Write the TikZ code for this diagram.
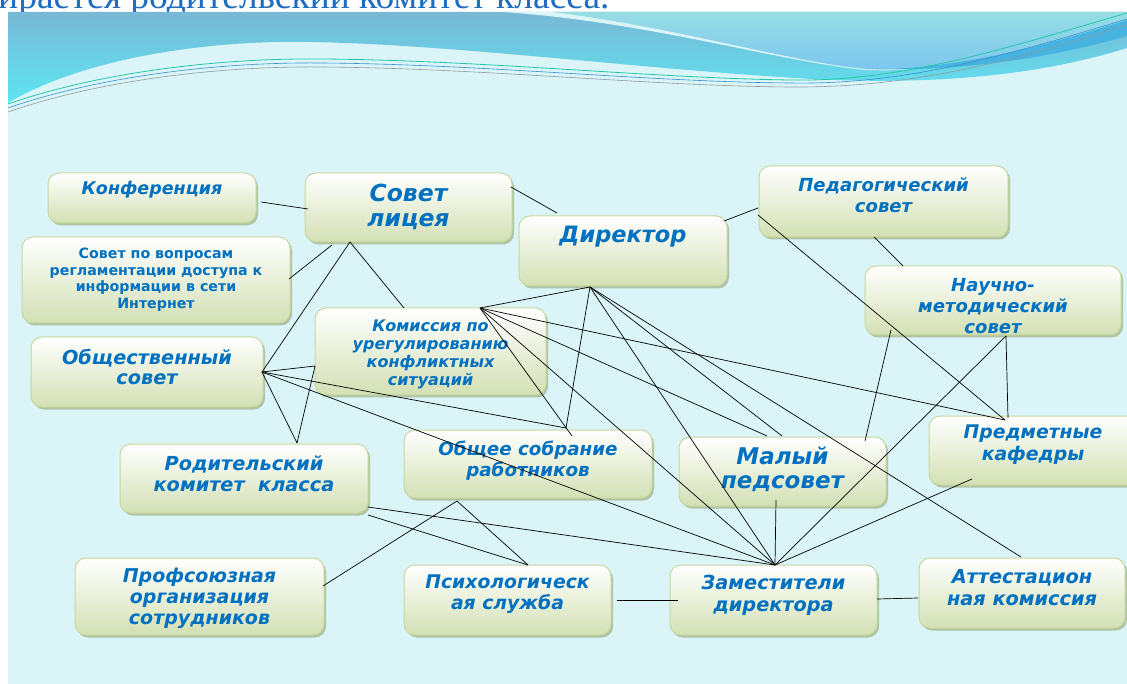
\documentclass[tikz,border=0pt]{standalone}
\usepackage{fontspec}
\newfontfamily\bxf{DejaVu Sans}
\newfontfamily\ttlf{Liberation Serif}
\usetikzlibrary{shadows}
\definecolor{bgc}{HTML}{DAF4F8}
\definecolor{txtc}{HTML}{0070C0}
\definecolor{ttlc}{HTML}{1F6DBF}
\definecolor{boxbot}{HTML}{D3E0B4}
\definecolor{boxedge}{HTML}{C5D89E}
\definecolor{shadc}{HTML}{A3B389}
\definecolor{wtop}{HTML}{79B8D5}
\definecolor{wbot}{HTML}{5CE6F2}
\definecolor{rtop}{HTML}{97DEE4}
\definecolor{rbot}{HTML}{7CC6EE}
\definecolor{band}{HTML}{47B3E0}
\definecolor{lteal}{HTML}{22C8A6}
\definecolor{lblue}{HTML}{3A8FD0}
\definecolor{lgray}{HTML}{8E9AA0}
\newcommand\bx[5]{%
  \node[box, minimum width={#4-#2}, minimum height={#5-#3}] (#1) at ({(#2+#4)/2},{(#3+#5)/2}) {};}
\newcommand\tx[6]{% name, cx, cy, size, skip, text
  \node[tx, font=\bxf\bfseries\itshape\fontsize{#4}{#5}\selectfont] (#1) at (#2,#3) {#6};}
\begin{document}
\begin{tikzpicture}[x=1pt,y=-1pt,
  box/.style={draw=boxedge, line width=1pt, rounded corners=11pt, top color=white,
    bottom color=boxbot, inner sep=0pt,
    drop shadow={shadow xshift=2pt, shadow yshift=-2.5pt, fill=shadc, opacity=0.75}},
  tx/.style={text=txtc, align=center, inner sep=0pt},
  conn/.style={draw=black, line width=0.7pt}]
\useasboundingbox (0,0) rectangle (1127,684);
\fill[white] (0,0) rectangle (1127,684);
% title (cut off at top in the reference)
\node[anchor=base west, inner sep=0pt, text=ttlc, font=\ttlf\fontsize{37.5}{40}\selectfont] (title) at (-2,9) {ирается родительский комитет класса.};
% background
\fill[bgc] (8,12) rectangle (1127,684);
% banner
\shade[top color=wtop, bottom color=wbot] (8,12) -- (1127,12) -- (1127,48)
  .. controls (1050,72) and (950,86) .. (812,79)
  .. controls (650,70) and (450,44) .. (309,42)
  .. controls (200,40) and (80,60) .. (8,103) -- cycle;
\fill[bgc] (503,12) .. controls (650,22) and (780,62) .. (866,70)
  .. controls (960,74) and (1050,42) .. (1127,13) -- (1127,12) -- cycle;
\shade[top color=rtop, bottom color=rbot] (553,12) -- (1127,12) -- (1127,22)
  .. controls (1050,45) and (960,70) .. (866,69)
  .. controls (790,62) and (680,28) .. (553,12) -- cycle;
\fill[band] (866,69) .. controls (960,70) and (1050,44) .. (1127,20) -- (1127,36)
  .. controls (1050,58) and (960,72) .. (866,69) -- cycle;
\draw[lteal, line width=0.8pt] (8,104) .. controls (100,72) and (220,58) .. (320,59)
  .. controls (480,60) and (650,78) .. (790,80) .. controls (900,82) and (1000,50) .. (1127,13);
\draw[lblue, line width=0.6pt] (8,108) .. controls (100,76) and (220,62) .. (320,63)
  .. controls (480,64) and (650,82) .. (790,83) .. controls (905,85) and (1005,56) .. (1127,19);
\draw[lgray, line width=0.6pt] (8,112) .. controls (100,80) and (220,66) .. (320,67)
  .. controls (480,68) and (650,86) .. (790,87) .. controls (910,88) and (1010,62) .. (1127,25);
% boxes
\bx{conf}{48}{173}{256}{223}
\bx{sovet}{305}{173}{512}{242}
\bx{vopr}{22}{237}{290}{323}
\bx{dir}{519}{216}{727}{286}
\bx{ped}{759}{166}{1008}{237}
\bx{nauch}{865}{266}{1121}{335}
\bx{kom}{315}{308}{546}{395}
\bx{obsh}{31}{337}{263}{407}
\bx{rod}{120}{444}{368}{513}
\bx{obsob}{404}{430}{652}{498}
\bx{malyi}{679}{437}{886}{506}
\bx{predm}{929}{416}{1145}{485}
\bx{prof}{75}{558}{324}{635}
\bx{psih}{404}{565}{611}{635}
\bx{zam}{670}{565}{877}{635}
\bx{attest}{919}{558}{1125}{628}
% texts
\tx{conf-t}{152}{190}{17.5}{20}{Конференция}
\tx{sovet-t}{408.5}{206.5}{23.5}{25}{Совет\\лицея}
\node[tx, font=\bxf\bfseries\fontsize{14.2}{16.5}\selectfont] (vopr-t) at (156,279.5) {Совет по вопросам\\регламентации доступа к\\информации в сети\\Интернет};
\tx{dir-t}{623}{237}{22.5}{25}{Директор}
\tx{ped-t}{883.5}{195.5}{18}{21}{Педагогический\\совет}
\tx{nauch-t}{993}{306}{18}{21}{Научно-\\методический\\совет}
\tx{kom-t}{430.5}{354}{16}{18}{Комиссия по\\урегулированию\\конфликтных\\ситуаций}
\tx{obsh-t}{147}{367}{19.3}{20}{Общественный\\совет}
\tx{rod-t}{244}{473.5}{19.3}{21}{Родительский\\комитет\ \ класса}
\tx{obsob-t}{528}{460.5}{18.3}{21}{Общее собрание\\работников}
\tx{malyi-t}{782.5}{469}{23}{24}{Малый\\педсовет}
\tx{predm-t}{1033}{445}{18.8}{22}{Предметные\\кафедры}
\tx{prof-t}{199.5}{598}{19}{21}{Профсоюзная\\организация\\сотрудников}
\tx{psih-t}{507.5}{594.5}{18.8}{21}{Психологическ\\ая служба}
\tx{zam-t}{773.5}{595}{19.3}{22}{Заместители\\директора}
\tx{attest-t}{1022}{588}{19.3}{22}{Аттестацион\\ная комиссия}
% connector end points
\coordinate (confR) at (261,202); \coordinate (sovL) at (308,209);
\coordinate (voprR) at (289,279); \coordinate (sovBL) at (332,245);
\coordinate (sovB) at (350,242); \coordinate (obshR) at (262,372);
\coordinate (komT) at (404,308);
\coordinate (sovR) at (511,187); \coordinate (dirTL) at (557,213);
\coordinate (dirR) at (724,221); \coordinate (pedL) at (758,208);
\coordinate (dirB) at (590,287); \coordinate (komTR) at (480,308);
\coordinate (obsobT) at (566,428); \coordinate (obsobT2) at (572,436);
\coordinate (zamT) at (775,565);
\coordinate (malT1) at (782,436); \coordinate (malT2) at (767,436);
\coordinate (attT) at (1021,557);
\coordinate (predT) at (1005,420);
\coordinate (komL) at (315,366); \coordinate (rodT) at (297,443);
\coordinate (pedBL) at (758,215);
\coordinate (pedB) at (874,237); \coordinate (nauchT) at (903,266);
\coordinate (nauchBL) at (891,330); \coordinate (malTR) at (865,441);
\coordinate (nauchB) at (1006,336); \coordinate (predT2) at (1008,418);
\coordinate (predBL) at (972,479);
\coordinate (malB) at (776,500);
\coordinate (rodR1) at (368,507); \coordinate (rodR2) at (368,515);
\coordinate (psihT) at (528,565);
\coordinate (obsobB) at (457,501); \coordinate (profR) at (323,586);
\coordinate (psihR) at (617,600); \coordinate (zamL) at (678,600);
\coordinate (zamR) at (877,599); \coordinate (attL) at (918,598);
% connectors
\draw[conn] (confR) -- (sovL);
\draw[conn] (voprR) -- (sovBL);
\draw[conn] (sovB) -- (obshR);
\draw[conn] (sovB) -- (komT);
\draw[conn] (sovR) -- (dirTL);
\draw[conn] (dirR) -- (pedL);
\draw[conn] (dirB) -- (komTR);
\draw[conn] (dirB) -- (obsobT);
\draw[conn] (dirB) -- (zamT);
\draw[conn] (dirB) -- (malT1);
\draw[conn] (dirB) -- (attT);
\draw[conn] (komTR) -- (obsobT2);
\draw[conn] (komTR) -- (zamT);
\draw[conn] (komTR) -- (malT2);
\draw[conn] (komTR) -- (predT);
\draw[conn] (obshR) -- (komL);
\draw[conn] (komL) -- (rodT);
\draw[conn] (obshR) -- (rodT);
\draw[conn] (obshR) -- (obsobT);
\draw[conn] (obshR) -- (zamT);
\draw[conn] (pedBL) -- (predT);
\draw[conn] (pedB) -- (nauchT);
\draw[conn] (nauchBL) -- (malTR);
\draw[conn] (nauchB) -- (predT2);
\draw[conn] (nauchB) -- (zamT);
\draw[conn] (predBL) -- (zamT);
\draw[conn] (malB) -- (zamT);
\draw[conn] (rodR1) -- (zamT);
\draw[conn] (rodR2) -- (psihT);
\draw[conn] (obsobB) -- (profR);
\draw[conn] (obsobB) -- (psihT);
\draw[conn] (psihR) -- (zamL);
\draw[conn] (zamR) -- (attL);
\end{tikzpicture}
\end{document}
